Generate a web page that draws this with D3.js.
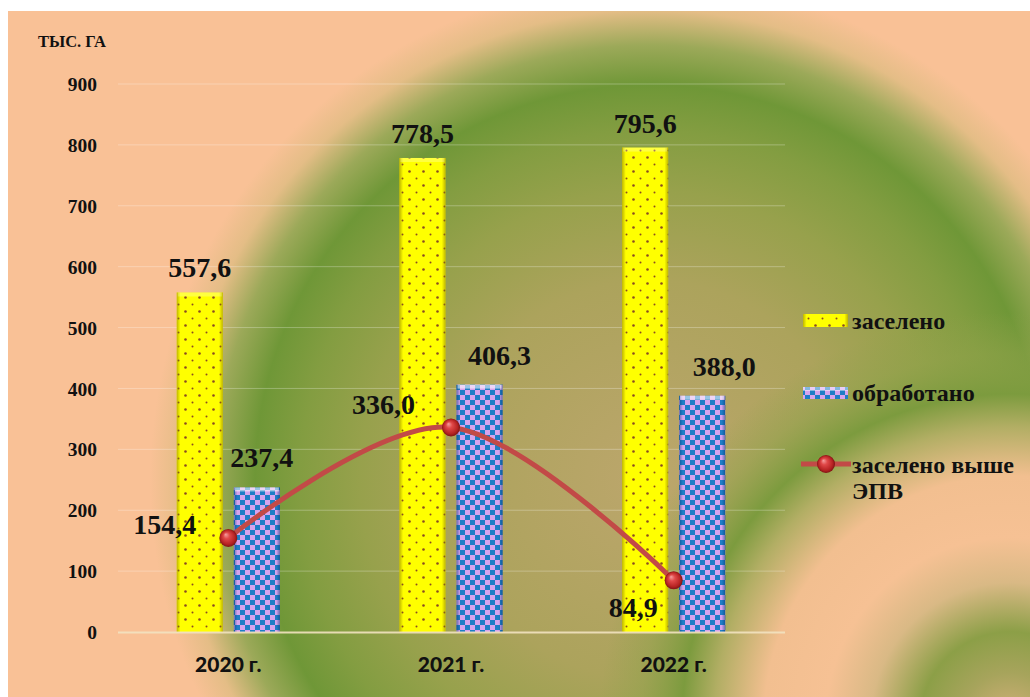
<!DOCTYPE html>
<html>
<head>
<meta charset="utf-8">
<script src="https://cdn.jsdelivr.net/npm/d3@7"></script>
<style>
  html, body { margin: 0; padding: 0; background: #ffffff; }
  svg { display: block; }
</style>
</head>
<body>
<svg id="chart" width="1030" height="697"></svg>
<script>
// ---- data ----
const categories = ["2020 г.", "2021 г.", "2022 г."];
const populated = [557.6, 778.5, 795.6];          // заселено
const treated = [237.4, 406.3, 388.0];            // обработано
const aboveThreshold = [154.4, 336.0, 84.9];      // заселено выше ЭПВ
const yTicks = [0, 100, 200, 300, 400, 500, 600, 700, 800, 900];
const seriesNames = ["заселено", "обработано", "заселено выше ЭПВ"];
const unitLabel = "ТЫС. ГА";

// label nudges (dx, dy) relative to the default placement
const treatedLabelShift = [[5, 0], [20, 0], [22, 0]];
const lineLabelShift = [[-32, -4], [-36, -13], [-16, 37]];

const fmt = v => v.toFixed(1).replace(".", ",");

const svg = d3.select("#chart");
const W = 1030, H = 697;
const defs = svg.append("defs");

// ---- background: peach field with soft green rings ----
const g1 = defs.append("radialGradient").attr("id", "ring1")
  .attr("gradientUnits", "userSpaceOnUse").attr("cx", 650).attr("cy", 480).attr("r", 500);
[[0, "#BCA66C", 1], [0.4, "#ACA35C", 1], [0.58, "#97A14C", 1], [0.7, "#839D41", 1],
 [0.79, "#6F9737", 1], [0.87, "#9CA959", 1], [0.94, "#E4BD86", 1], [1, "#F9C196", 1]]
  .forEach(([o, c, a]) => g1.append("stop").attr("offset", o).attr("stop-color", c).attr("stop-opacity", a));

const g2 = defs.append("radialGradient").attr("id", "ring2")
  .attr("gradientUnits", "userSpaceOnUse").attr("cx", 1010).attr("cy", 722).attr("r", 410);
[[0, "#D6B27C", 1], [0.12, "#A7A45C", 1], [0.22, "#8C9F47", 1], [0.34, "#D9B985", 1],
 [0.45, "#F6C194", 1], [0.6, "#F2BF90", 1], [0.72, "#B2AE64", 1], [0.8, "#7C9B3E", 1],
 [0.9, "#8FA24A", 0.5], [1, "#8FA24A", 0]]
  .forEach(([o, c, a]) => g2.append("stop").attr("offset", o).attr("stop-color", c).attr("stop-opacity", a));

const bg = svg.append("g");
bg.append("rect").attr("x", 8).attr("y", 11).attr("width", W - 8).attr("height", H - 11).attr("fill", "#F9C196");
bg.append("rect").attr("x", 8).attr("y", 11).attr("width", W - 8).attr("height", H - 11).attr("fill", "url(#ring1)");
bg.append("rect").attr("x", 8).attr("y", 11).attr("width", W - 8).attr("height", H - 11).attr("fill", "url(#ring2)");

// ---- fill patterns ----
const dots = defs.append("pattern").attr("id", "dots")
  .attr("patternUnits", "userSpaceOnUse").attr("width", 14).attr("height", 14);
dots.append("rect").attr("width", 14).attr("height", 14).attr("fill", "#FFFF00");
[[3.5, 3.5, 1.3], [10.5, 10.5, 1.0]].forEach(([cx, cy, r]) =>
  dots.append("circle").attr("cx", cx).attr("cy", cy).attr("r", r).attr("fill", "#8A4B22"));

const checks = defs.append("pattern").attr("id", "checks")
  .attr("patternUnits", "userSpaceOnUse").attr("width", 10).attr("height", 10);
checks.append("rect").attr("width", 10).attr("height", 10).attr("fill", "#D7A4EE");
checks.append("rect").attr("width", 5).attr("height", 5).attr("fill", "#1E7DC6");
checks.append("rect").attr("x", 5).attr("y", 5).attr("width", 5).attr("height", 5).attr("fill", "#1E7DC6");

function sideShade(id, col) {
  const g = defs.append("linearGradient").attr("id", id).attr("x1", 0).attr("x2", 1).attr("y1", 0).attr("y2", 0);
  [[0, 0.55], [0.08, 0], [0.92, 0], [1, 0.55]].forEach(([o, a]) =>
    g.append("stop").attr("offset", o).attr("stop-color", col).attr("stop-opacity", a));
}
sideShade("shadeY", "#8C7A00");
sideShade("shadeB", "#0A3A80");

const mg = defs.append("radialGradient").attr("id", "markerGrad")
  .attr("cx", "50%").attr("cy", "50%").attr("r", "50%").attr("fx", "35%").attr("fy", "30%");
[[0, "#F5A0A0"], [0.35, "#E04848"], [0.8, "#B52222"], [1, "#7E1414"]]
  .forEach(([o, c]) => mg.append("stop").attr("offset", o).attr("stop-color", c));

// ---- scales ----
const x0 = d3.scaleBand().domain(categories).range([117, 785])
  .paddingInner(0.5367).paddingOuter(0.2683);
const x1 = d3.scaleBand().domain([0, 1]).range([0, x0.bandwidth()]).paddingInner(0.193);
const y = d3.scaleLinear().domain([0, 900]).range([632, 84]);

// ---- grid and axes ----
const grid = svg.append("g");
grid.selectAll("line").data(yTicks.filter(t => t > 0)).join("line")
  .attr("x1", 118).attr("x2", 785)
  .attr("y1", d => y(d)).attr("y2", d => y(d))
  .attr("stroke", "#FFFFFF").attr("stroke-opacity", 0.28).attr("stroke-width", 1);

const serif = "'Liberation Serif', 'Times New Roman', serif";
const yAxis = svg.append("g").attr("transform", "translate(97,0)")
  .call(d3.axisLeft(y).tickValues(yTicks).tickSize(0).tickPadding(0));
yAxis.select(".domain").remove();
yAxis.selectAll("text")
  .attr("font-family", serif)
  .attr("font-weight", "bold").attr("font-size", 19.5).attr("fill", "#111")
  .attr("text-anchor", "end").attr("dy", "0.34em");

svg.append("text").attr("x", 38).attr("y", 47).text(unitLabel)
  .attr("font-family", serif)
  .attr("font-weight", "bold").attr("font-size", 16.5).attr("fill", "#111");

// ---- bars ----
const barData = [];
categories.forEach((c, i) => {
  barData.push({ c, s: 0, v: populated[i], i });
  barData.push({ c, s: 1, v: treated[i], i });
});
const bars = svg.append("g");
bars.selectAll("rect.bar").data(barData).join("rect").attr("class", "bar")
  .attr("x", d => x0(d.c) + x1(d.s)).attr("width", x1.bandwidth())
  .attr("y", d => y(d.v)).attr("height", d => y(0) - y(d.v))
  .attr("fill", d => d.s === 0 ? "url(#dots)" : "url(#checks)");
bars.selectAll("rect.shade").data(barData).join("rect").attr("class", "shade")
  .attr("x", d => x0(d.c) + x1(d.s)).attr("width", x1.bandwidth())
  .attr("y", d => y(d.v)).attr("height", d => y(0) - y(d.v))
  .attr("fill", d => d.s === 0 ? "url(#shadeY)" : "url(#shadeB)");
bars.selectAll("rect.top").data(barData).join("rect").attr("class", "top")
  .attr("x", d => x0(d.c) + x1(d.s) + 1).attr("width", x1.bandwidth() - 2)
  .attr("y", d => y(d.v)).attr("height", 4)
  .attr("fill", "#FFFFFF").attr("fill-opacity", d => d.s === 0 ? 0.25 : 0.55);

// axis base line
svg.append("line").attr("x1", 118).attr("x2", 785).attr("y1", y(0) + 0.5).attr("y2", y(0) + 0.5)
  .attr("stroke", "#F2E2C0").attr("stroke-width", 2).attr("stroke-opacity", 0.9);

// category labels
svg.append("g").selectAll("text").data(categories).join("text")
  .attr("x", d => x0(d) + x0.bandwidth() / 2).attr("y", 672)
  .attr("text-anchor", "middle").text(d => d)
  .attr("font-family", "Lato, 'Open Sans', sans-serif")
  .attr("font-weight", 900).attr("font-size", 21).attr("fill", "#111");

// bar value labels
svg.append("g").selectAll("text").data(barData).join("text")
  .attr("x", d => x0(d.c) + x1(d.s) + x1.bandwidth() / 2 + (d.s === 1 ? treatedLabelShift[d.i][0] : 0))
  .attr("y", d => y(d.v) - (d.s === 0 ? 15 : 20))
  .attr("text-anchor", "middle").text(d => fmt(d.v))
  .attr("font-family", serif).attr("font-weight", "bold").attr("font-size", 28).attr("fill", "#111");

// ---- line series ----
const pts = categories.map((c, i) => ({ c, v: aboveThreshold[i], i }));
const lineGen = d3.line()
  .x(d => x0(d.c) + x0.bandwidth() / 2).y(d => y(d.v))
  .curve(d3.curveCardinal.tension(0));
svg.append("path").datum(pts).attr("d", lineGen)
  .attr("fill", "none").attr("stroke", "#C24A47").attr("stroke-width", 5).attr("stroke-linecap", "round");
svg.append("g").selectAll("circle").data(pts).join("circle")
  .attr("cx", d => x0(d.c) + x0.bandwidth() / 2).attr("cy", d => y(d.v)).attr("r", 9)
  .attr("fill", "url(#markerGrad)");
svg.append("g").selectAll("text").data(pts).join("text")
  .attr("x", d => x0(d.c) + x0.bandwidth() / 2 + lineLabelShift[d.i][0])
  .attr("y", d => y(d.v) + lineLabelShift[d.i][1])
  .attr("text-anchor", "end").text(d => fmt(d.v))
  .attr("font-family", serif).attr("font-weight", "bold").attr("font-size", 28).attr("fill", "#111");

// ---- legend ----
const legend = svg.append("g").attr("font-family", serif).attr("font-weight", "bold")
  .attr("font-size", 24).attr("fill", "#111");
legend.append("rect").attr("x", 803).attr("y", 314).attr("width", 45).attr("height", 13).attr("fill", "url(#dots)");
legend.append("rect").attr("x", 803).attr("y", 314).attr("width", 45).attr("height", 13).attr("fill", "url(#shadeY)");
legend.append("text").attr("x", 852).attr("y", 329).text(seriesNames[0]);

legend.append("rect").attr("x", 803).attr("y", 387).attr("width", 45).attr("height", 12).attr("fill", "url(#checks)");
legend.append("rect").attr("x", 803).attr("y", 387).attr("width", 45).attr("height", 4).attr("fill", "#fff").attr("fill-opacity", 0.45);
legend.append("text").attr("x", 852).attr("y", 401).text(seriesNames[1]);

legend.append("line").attr("x1", 801).attr("x2", 851).attr("y1", 464).attr("y2", 464)
  .attr("stroke", "#C24A47").attr("stroke-width", 5);
legend.append("circle").attr("cx", 826).attr("cy", 464).attr("r", 9).attr("fill", "url(#markerGrad)");
const words = seriesNames[2].split(" ");
const lt = legend.append("text").attr("x", 852).attr("y", 473);
lt.append("tspan").attr("x", 852).text(words.slice(0, 2).join(" "));
lt.append("tspan").attr("x", 852).attr("dy", 26).text(words.slice(2).join(" "));
</script>
</body>
</html>
